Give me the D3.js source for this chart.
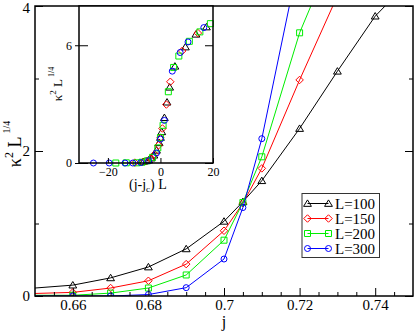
<!DOCTYPE html>
<html>
<head>
<meta charset="utf-8">
<script src="https://cdn.jsdelivr.net/npm/d3@7"></script>
<style>
  body { margin: 0; background: #fff; }
</style>
</head>
<body>
<svg id="chart" width="415" height="332" viewBox="0 0 415 332"></svg>
<script>
// critical point used for the scaled inset
const jc = 0.705

// j values and kappa^2 L^(1/4) per system size (points past the frame get clipped)
const j100 = [0.64, 0.66, 0.67, 0.68, 0.69, 0.70, 0.705, 0.71, 0.72, 0.73, 0.74, 0.76, 0.80, 0.84, 0.88]
const k100 = [0.07, 0.15, 0.25, 0.40, 0.65, 1.03, 1.30, 1.59, 2.31, 3.10, 3.86, 4.93, 5.91, 6.56, 6.93]
const j150 = [0.64, 0.66, 0.67, 0.68, 0.69, 0.70, 0.705, 0.71, 0.72, 0.73, 0.76, 0.80]
const k150 = [0.02, 0.05, 0.11, 0.21, 0.44, 0.90, 1.28, 1.76, 2.98, 4.14, 5.71, 6.62]
const j200 = [0.62, 0.64, 0.66, 0.67, 0.68, 0.69, 0.70, 0.705, 0.71, 0.72, 0.73, 0.74, 0.76, 0.78, 0.80]
const k200 = [0.0, 0.01, 0.01, 0.04, 0.11, 0.29, 0.77, 1.29, 1.92, 3.63, 4.87, 5.45, 6.20, 6.68, 7.10]
const j300 = [0.62, 0.64, 0.66, 0.67, 0.68, 0.69, 0.70, 0.705, 0.71, 0.72, 0.73, 0.74, 0.76]
const k300 = [0.0, 0.0, 0.0, 0.0, 0.02, 0.115, 0.51, 1.22, 2.17, 4.68, 5.63, 6.17, 6.90]

const sizes = [100, 150, 200, 300]
const legendLabels = ['L=100', 'L=150', 'L=200', 'L=300']
const xTicks = [0.66, 0.68, 0.70, 0.72, 0.74]
const yTicks = [0, 2, 4]
const insetXTicks = [-20, 0, 20]
const insetYTicks = [0, 6]

const series = [
  { L: sizes[0], j: j100, k: k100, color: '#000000', shape: 'triangle', label: legendLabels[0] },
  { L: sizes[1], j: j150, k: k150, color: '#ff0000', shape: 'diamond', label: legendLabels[1] },
  { L: sizes[2], j: j200, k: k200, color: '#00ee00', shape: 'square', label: legendLabels[2] },
  { L: sizes[3], j: j300, k: k300, color: '#0000ff', shape: 'circle', label: legendLabels[3] }
]
series.forEach(s => { s.points = s.j.map((j, i) => ({ j, k: s.k[i], X: (j - jc) * s.L })) })

const frame = { left: 35, right: 413, top: 6, bottom: 296 }
const insetFrame = { left: 79, right: 213, top: 6, bottom: 163 }
const serif = '"Liberation Serif"'

const svg = d3.select('#chart')

// every text in this chart is set in the serif face
const addText = (parent) => parent.append('text').style('font-family', serif).attr('fill', '#000')

// open marker paths, centred on 0,0
function marker (shape, r) {
  if (shape === 'circle') return `M${r},0A${r},${r} 0 1,1 ${-r},0A${r},${r} 0 1,1 ${r},0Z`
  if (shape === 'square') return `M${-r},${-r}H${r}V${r}H${-r}Z`
  if (shape === 'diamond') return `M0,${-r * 1.25}L${r * 1.25},0L0,${r * 1.25}L${-r * 1.25},0Z`
  return `M0,${-r * 1.2}L${r * 1.3},${r * 0.95}L${-r * 1.3},${r * 0.95}Z`
}

const x = d3.scaleLinear().domain([0.65, 0.75]).range([frame.left, frame.right])
const y = d3.scaleLinear().domain([0, 4]).range([frame.bottom, frame.top])

svg.append('clipPath').attr('id', 'mainClip')
  .append('rect')
  .attr('x', frame.left).attr('y', frame.top)
  .attr('width', frame.right - frame.left).attr('height', frame.bottom - frame.top)

// Main series
const line = d3.line().x(d => x(d.j)).y(d => y(d.k))
const plotG = svg.append('g').attr('clip-path', 'url(#mainClip)')
series.forEach(s => {
  const g = plotG.append('g')
  g.append('path')
    .attr('d', line(s.points))
    .attr('fill', 'none')
    .attr('stroke', s.color)
    .attr('stroke-width', 1)
  g.selectAll('path.mk').data(s.points).enter().append('path')
    .attr('class', 'mk')
    .attr('d', marker(s.shape, 3))
    .attr('transform', d => `translate(${x(d.j)},${y(d.k)})`)
    .attr('fill', 'none')
    .attr('stroke', s.color)
    .attr('stroke-width', 1)
})

// Main axes
const styleAxis = (g, size) => {
  g.select('.domain').remove()
  g.attr('font-family', null).attr('font-size', null)
  g.selectAll('line').attr('stroke', '#000')
  g.selectAll('text').attr('fill', '#000').style('font-size', size).style('font-family', serif)
}

const xMinor = d3.range(0.655, 0.75, 0.005).filter(v => !xTicks.some(t => Math.abs(t - v) < 1e-6))
svg.append('g')
  .attr('transform', `translate(0,${frame.bottom})`)
  .call(d3.axisBottom(x).tickValues(xTicks).tickSizeInner(-8).tickSizeOuter(0).tickPadding(3)
    .tickFormat(d => String(+d.toFixed(2))))
  .call(g => styleAxis(g, '15px'))
svg.append('g')
  .attr('transform', `translate(0,${frame.bottom})`)
  .call(d3.axisBottom(x).tickValues(xMinor).tickSizeInner(-4).tickSizeOuter(0).tickFormat(''))
  .call(g => styleAxis(g, '15px'))

svg.append('g')
  .attr('transform', `translate(${frame.left},0)`)
  .call(d3.axisLeft(y).tickValues(yTicks).tickSizeInner(-8).tickSizeOuter(0).tickPadding(5)
    .tickFormat(d3.format('d')))
  .call(g => styleAxis(g, '15px'))
  .call(g => g.selectAll('text').filter(d => d === 4).attr('dy', '0.45em'))
svg.append('g')
  .attr('transform', `translate(${frame.left},0)`)
  .call(d3.axisLeft(y).tickValues([1, 3]).tickSizeInner(-4).tickSizeOuter(0).tickFormat(''))
  .call(g => styleAxis(g, '15px'))
svg.append('g')
  .attr('transform', `translate(${frame.right},0)`)
  .call(d3.axisRight(y).tickValues(yTicks).tickSizeInner(-8).tickSizeOuter(0).tickFormat(''))
  .call(g => styleAxis(g, '15px'))
svg.append('g')
  .attr('transform', `translate(${frame.right},0)`)
  .call(d3.axisRight(y).tickValues([1, 3]).tickSizeInner(-4).tickSizeOuter(0).tickFormat(''))
  .call(g => styleAxis(g, '15px'))

svg.append('rect')
  .attr('x', frame.left).attr('y', frame.top)
  .attr('width', frame.right - frame.left).attr('height', frame.bottom - frame.top)
  .attr('fill', 'none').attr('stroke', '#000').attr('stroke-width', 1.5)

// Axis labels
addText(svg)
  .attr('x', 224).attr('y', 327)
  .attr('text-anchor', 'middle')
  .style('font-size', '16px')
  .text('j')

const yLabel = addText(svg)
  .attr('transform', 'translate(21,144) rotate(-90)')
  .attr('text-anchor', 'middle')
  .style('font-size', '18px')
yLabel.append('tspan').text('κ')
yLabel.append('tspan').attr('dy', -8).style('font-size', '12px').text('2')
yLabel.append('tspan').attr('dy', 8).text(' L')
yLabel.append('tspan').attr('dy', -11).attr('dx', 3).style('font-size', '10px').text('1/4')

// Inset
const ix = d3.scaleLinear().domain([-31, 20]).range([insetFrame.left, insetFrame.right])
const iy = d3.scaleLinear().domain([0, 8]).range([insetFrame.bottom, insetFrame.top])
const inset = svg.append('g')

inset.append('rect')
  .attr('x', insetFrame.left).attr('y', insetFrame.top)
  .attr('width', insetFrame.right - insetFrame.left).attr('height', insetFrame.bottom - insetFrame.top)
  .attr('fill', '#fff')

series.forEach(s => {
  inset.append('g').selectAll('path').data(s.points.filter(d => d.X <= 20)).enter().append('path')
    .attr('d', marker(s.shape, 3))
    .attr('transform', d => `translate(${ix(d.X)},${iy(d.k)})`)
    .attr('fill', 'none')
    .attr('stroke', s.color)
    .attr('stroke-width', 1)
})

inset.append('g')
  .attr('transform', `translate(0,${insetFrame.bottom})`)
  .call(d3.axisBottom(ix).tickValues(insetXTicks).tickSizeInner(-5).tickSizeOuter(0).tickPadding(4))
  .call(g => styleAxis(g, '12px'))
inset.append('g')
  .attr('transform', `translate(${insetFrame.left},0)`)
  .call(d3.axisLeft(iy).tickValues(insetYTicks).tickSizeInner(-9).tickSizeOuter(0).tickPadding(7))
  .call(g => styleAxis(g, '12px'))
  .call(g => g.selectAll('line').attr('x1', -4))
inset.append('g')
  .attr('transform', `translate(${insetFrame.right},0)`)
  .call(d3.axisRight(iy).tickValues(insetYTicks).tickSizeInner(-8).tickSizeOuter(0).tickFormat(''))
  .call(g => styleAxis(g, '12px'))

inset.append('rect')
  .attr('x', insetFrame.left).attr('y', insetFrame.top)
  .attr('width', insetFrame.right - insetFrame.left).attr('height', insetFrame.bottom - insetFrame.top)
  .attr('fill', 'none').attr('stroke', '#000').attr('stroke-width', 1.5)

const ixLabel = addText(inset)
  .attr('x', 129).attr('y', 189)
  .style('font-size', '14px')
ixLabel.append('tspan').text('(j-j')
ixLabel.append('tspan').attr('dy', 3).style('font-size', '9px').text('c')
ixLabel.append('tspan').attr('dy', -3).text(') L')

const iyLabel = addText(inset)
  .attr('transform', 'translate(62,84) rotate(-90)')
  .attr('text-anchor', 'middle')
  .style('font-size', '13px')
iyLabel.append('tspan').text('κ')
iyLabel.append('tspan').attr('dy', -6).style('font-size', '9px').text('2')
iyLabel.append('tspan').attr('dy', 6).text(' L')
iyLabel.append('tspan').attr('dy', -8).attr('dx', 2).style('font-size', '8px').text('1/4')

// Legend
const legend = svg.append('g').attr('transform', 'translate(302,193.5)')
legend.append('rect')
  .attr('width', 77.5).attr('height', 64)
  .attr('fill', '#fff').attr('stroke', '#333').attr('stroke-width', 1)
series.forEach((s, i) => {
  const row = legend.append('g').attr('transform', `translate(0,${10 + i * 15})`)
  row.append('line')
    .attr('x1', 5.5).attr('x2', 26.5)
    .attr('stroke', s.color).attr('stroke-width', 1)
  ;[5.5, 26.5].forEach(mx => {
    row.append('path')
      .attr('d', marker(s.shape, 3))
      .attr('transform', `translate(${mx},0)`)
      .attr('fill', 'none').attr('stroke', s.color).attr('stroke-width', 1)
  })
  addText(row)
    .attr('x', 33).attr('y', 5)
    .style('font-size', '15px')
    .text(s.label)
})
</script>
</body>
</html>
